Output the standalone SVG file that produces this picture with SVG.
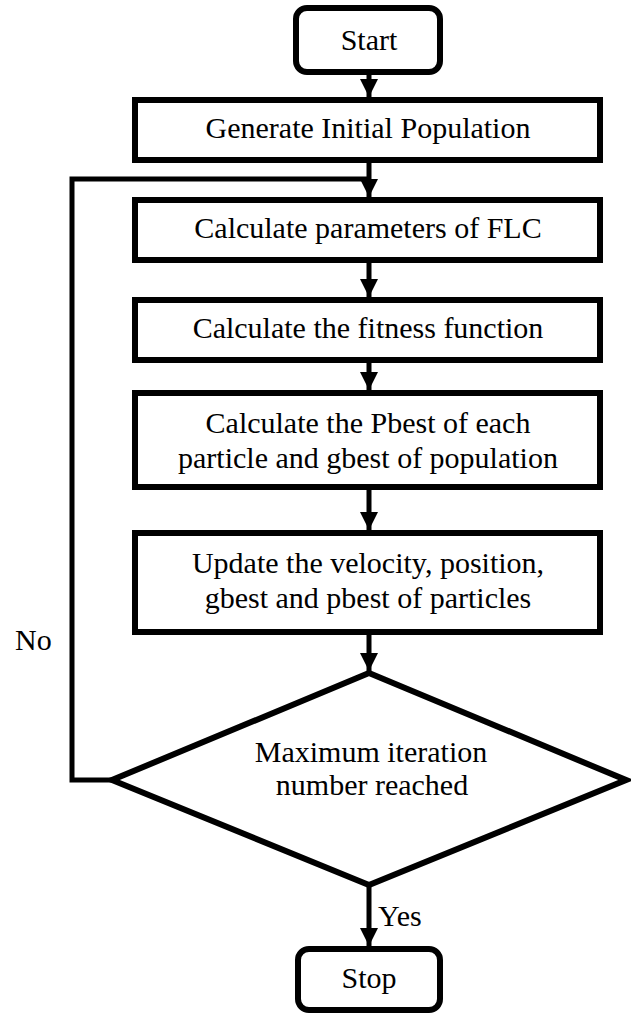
<svg xmlns="http://www.w3.org/2000/svg" width="631" height="1015" viewBox="0 0 631 1015" font-family="Liberation Serif, Times New Roman, serif" font-size="30">
<style>
.box{fill:#fff;stroke:#000;stroke-width:6}
.con{fill:none;stroke:#000;stroke-width:5}
.c{text-anchor:middle}
</style>
<defs>
<marker id="arr" markerUnits="userSpaceOnUse" markerWidth="18" markerHeight="20" refX="18" refY="9" orient="auto">
<path d="M0,0 L18,9 L0,18 Z" fill="#000"/>
</marker>
</defs>
<rect width="631" height="1015" fill="#fff"/>
<g id="connectors">
<line class="con" x1="369" y1="72" x2="369" y2="97" marker-end="url(#arr)"/>
<line class="con" x1="369" y1="160" x2="369" y2="197" marker-end="url(#arr)"/>
<polyline class="con" points="112,780 72,780 72,179 369,179"/>
<line class="con" x1="369" y1="260" x2="369" y2="297" marker-end="url(#arr)"/>
<line class="con" x1="369" y1="360" x2="369" y2="390" marker-end="url(#arr)"/>
<line class="con" x1="369" y1="487" x2="369" y2="530" marker-end="url(#arr)"/>
<line class="con" x1="369" y1="632" x2="369" y2="671" marker-end="url(#arr)"/>
<line class="con" x1="369" y1="885" x2="369" y2="946" marker-end="url(#arr)"/>
<text x="378" y="926">Yes</text>
<text x="15" y="650">No</text>
</g>
<g id="start">
<rect class="box" x="296" y="8" width="144" height="64" rx="11"/>
<text class="c" x="369" y="50">Start</text>
</g>
<g id="generate">
<rect class="box" x="135" y="100" width="465" height="60"/>
<text class="c" x="368" y="138">Generate Initial Population</text>
</g>
<g id="params">
<rect class="box" x="135" y="200" width="465" height="60"/>
<text class="c" x="368" y="238">Calculate parameters of FLC</text>
</g>
<g id="fitness">
<rect class="box" x="135" y="300" width="465" height="60"/>
<text class="c" x="368" y="338">Calculate the fitness function</text>
</g>
<g id="pbest">
<rect class="box" x="135" y="393" width="465" height="94"/>
<text class="c" x="368" y="433">Calculate the Pbest of each</text>
<text class="c" x="368" y="468">particle and gbest of population</text>
</g>
<g id="update">
<rect class="box" x="135" y="533" width="465" height="99"/>
<text class="c" x="368" y="573">Update the velocity, position,</text>
<text class="c" x="368" y="608">gbest and pbest of particles</text>
</g>
<g id="decision">
<polygon class="box" points="369,673 626,780 369,885 112,780"/>
<text class="c" x="371" y="762">Maximum iteration</text>
<text class="c" x="372" y="795">number reached</text>
</g>
<g id="stop">
<rect class="box" x="298" y="949" width="142" height="61" rx="11"/>
<text class="c" x="369" y="988">Stop</text>
</g>
</svg>
